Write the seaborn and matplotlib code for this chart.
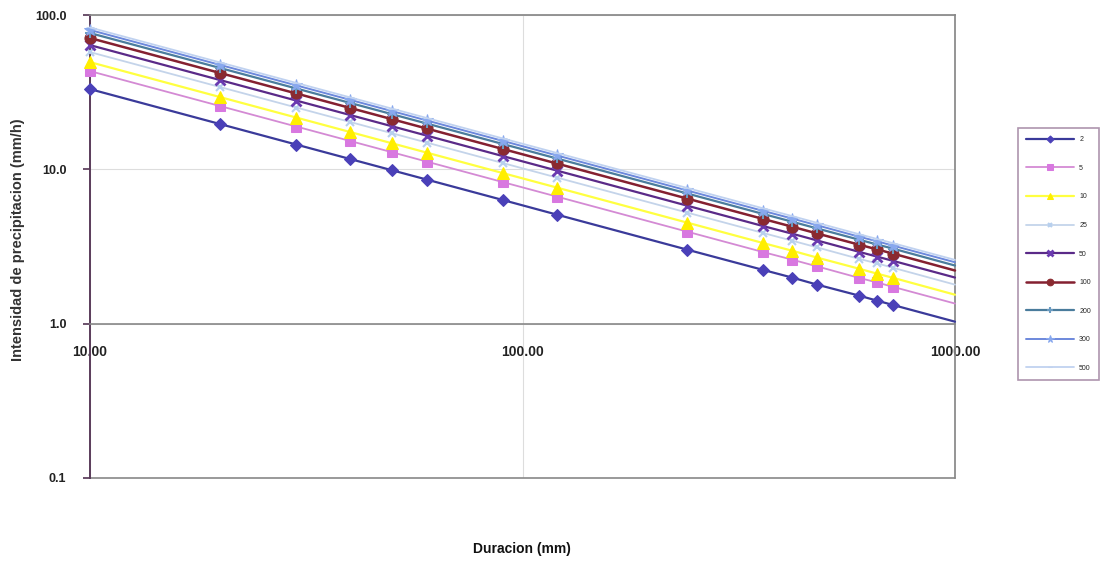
import matplotlib
matplotlib.use("Agg")
import matplotlib.pyplot as plt
import seaborn as sns
import pandas as pd

sns.set_theme(style="white")
plt.rcParams['font.family'] = ['Liberation Sans', 'DejaVu Sans']

durations = [10, 20, 30, 40, 50, 60, 90, 120, 240, 360, 420, 480, 600, 660, 720, 1000]
periods = ["2", "5", "10", "25", "50", "100", "200", "300", "500"]

i_2 = [33.1, 19.64, 14.47, 11.65, 9.85, 8.59, 6.33, 5.09, 3.02, 2.23, 1.99, 1.79, 1.52, 1.41, 1.32, 1.03]
i_5 = [43.3, 25.69, 18.93, 15.25, 12.89, 11.23, 8.27, 6.66, 3.95, 2.91, 2.60, 2.35, 1.98, 1.85, 1.73, 1.35]
i_10 = [49.5, 29.37, 21.64, 17.43, 14.73, 12.84, 9.46, 7.62, 4.52, 3.33, 2.97, 2.68, 2.27, 2.11, 1.98, 1.54]
i_25 = [57.5, 34.12, 25.14, 20.25, 17.11, 14.92, 10.99, 8.85, 5.25, 3.87, 3.45, 3.12, 2.63, 2.46, 2.30, 1.79]
i_50 = [63.8, 37.86, 27.89, 22.46, 18.99, 16.55, 12.19, 9.82, 5.82, 4.29, 3.83, 3.46, 2.92, 2.72, 2.55, 1.99]
i_100 = [70.9, 42.07, 31.00, 24.96, 21.10, 18.39, 13.55, 10.91, 6.47, 4.77, 4.25, 3.84, 3.25, 3.03, 2.84, 2.21]
i_200 = [76.4, 45.34, 33.40, 26.90, 22.74, 19.82, 14.60, 11.76, 6.98, 5.14, 4.58, 4.14, 3.50, 3.26, 3.06, 2.38]
i_300 = [80.0, 47.47, 34.98, 28.17, 23.81, 20.75, 15.29, 12.31, 7.30, 5.38, 4.80, 4.34, 3.66, 3.42, 3.20, 2.50]
i_500 = [83.0, 49.25, 36.29, 29.22, 24.70, 21.53, 15.86, 12.77, 7.58, 5.59, 4.98, 4.50, 3.80, 3.54, 3.32, 2.59]

series = [i_2, i_5, i_10, i_25, i_50, i_100, i_200, i_300, i_500]

y_ticks = [0.1, 1.0, 10.0, 100.0]
y_tick_labels = ["0.1", "1.0", "10.0", "100.0"]
x_ticks = [10, 100, 1000]
x_tick_labels = ["10.00", "100.00", "1000.00"]

styles = [
    dict(color="#3a3a9a", marker="D", ms=6, mfc="#4a40b8", mec="#4a40b8", lw=1.6),
    dict(color="#d48ad4", marker="s", ms=7, mfc="#d878e0", mec="#d878e0", lw=1.3),
    dict(color="#ffff40", marker="^", ms=8, mfc="#ffee00", mec="#ffee00", lw=1.6),
    dict(color="#c4d4ea", marker="x", ms=6, mfc="#b8d0ee", mec="#b8d0ee", lw=1.3, mew=1.5),
    dict(color="#5a2a88", marker="x", ms=7, mfc="#6a3ab0", mec="#6a3ab0", lw=1.6, mew=2),
    dict(color="#842030", marker="o", ms=8, mfc="#8a2a30", mec="#8a2a30", lw=1.8),
    dict(color="#4a7c9c", marker="+", ms=7, mfc="#6a9ac0", mec="#6a9ac0", lw=1.6, mew=1.5),
    dict(color="#6c88dc", marker="*", ms=9, mfc="#88a8ee", mec="#88a8ee", lw=1.4),
    dict(color="#c0d2f0", marker="_", ms=6, mfc="#c0d2f0", mec="#c0d2f0", lw=1.3),
]

fig = plt.figure(figsize=(11, 5.62), dpi=100)
ax = fig.add_axes([90 / 1100, 1 - 478 / 562, 865 / 1100, 463 / 562])

mark_idx = list(range(len(durations) - 1))
for label, vals, st in zip(periods, series, styles):
    df = pd.DataFrame({"Duracion": durations, "Intensidad": vals})
    sns.lineplot(data=df, x="Duracion", y="Intensidad", ax=ax, label=label,
                 markevery=mark_idx, clip_on=False, zorder=3, **st)

ax.set_xscale("log")
ax.set_yscale("log")
ax.set_xlim(10, 1000)
ax.set_ylim(0.1, 100)

# x axis crosses at 1.0 (Excel style)
ax.spines['bottom'].set_position(('data', 1.0))
ax.spines['bottom'].set_color("#888888")
ax.spines['bottom'].set_linewidth(1.2)
ax.spines['left'].set_color("#5a3c5a")
ax.spines['left'].set_linewidth(1.4)
ax.spines['top'].set_color("#888888")
ax.spines['right'].set_color("#888888")
ax.axhline(0.1, color="#888888", lw=1.2, clip_on=False)

ax.minorticks_off()
ax.set_yticks(y_ticks)
ax.set_yticklabels(y_tick_labels)
ax.set_xticks(x_ticks)
ax.set_xticklabels(x_tick_labels)
for t in ax.get_yticklabels():
    t.set_fontsize(9)
    t.set_fontweight("bold")
    t.set_color("#222222")
for t in ax.get_xticklabels():
    t.set_fontsize(10)
    t.set_fontweight("bold")
    t.set_color("#222222")

ax.tick_params(axis='y', which='major', left=True, length=5, color="#5a3c5a", pad=12)
ax.tick_params(axis='x', which='major', bottom=False, pad=9)
ax.tick_params(which='minor', left=False, bottom=False)

ax.grid(True, which='major', color="#dddddd", lw=0.8)
ax.set_axisbelow(True)

ax.set_xlabel("")
ax.set_ylabel("")
fig.text(522 / 1100, 1 - 549 / 562, "Duracion (mm)", ha="center", va="center",
         fontsize=10, fontweight="bold", color="#111111")
fig.text(18 / 1100, 1 - 240 / 562, "Intensidad de precipitacion (mm/h)", ha="center",
         va="center", rotation=90, fontsize=10.5, fontweight="bold", color="#333333")

ax.get_legend().remove()
handles, labels = ax.get_legend_handles_labels()
leg = fig.legend(handles, labels, loc="center left",
                 bbox_to_anchor=(1018 / 1100, 1 - 254 / 562),
                 fontsize=5, handlelength=6.8, handletextpad=0.8, labelspacing=3.1,
                 borderpad=1.2, borderaxespad=0, frameon=True, fancybox=False,
                 markerscale=0.6)
leg.get_frame().set_edgecolor("#9a7a9a")
leg.get_frame().set_linewidth(1.2)

fig.savefig("out.png", dpi=100)
